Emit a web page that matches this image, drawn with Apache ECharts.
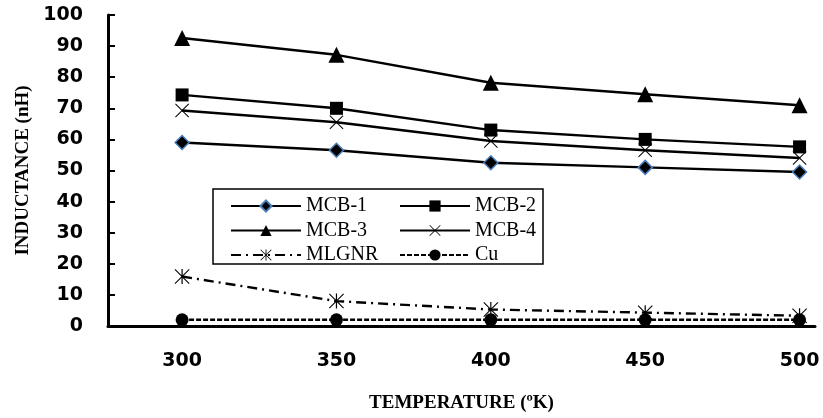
<!DOCTYPE html>
<html><head><meta charset="utf-8">
<script src="https://cdn.jsdelivr.net/npm/echarts@6/dist/echarts.min.js"></script>
<style>html,body{margin:0;padding:0;background:#fff}#c{width:823px;height:418px}</style>
</head><body><div id="c"></div>
<script>
var temps = [300, 350, 400, 450, 500];
var mcb1 = [59, 56.5, 52.5, 51, 49.5];
var mcb2 = [74.3, 70, 63, 60, 57.6];
var mcb3 = [92.6, 87.2, 78.2, 74.5, 71];
var mcb4 = [69.3, 65.5, 59.5, 56.5, 54];
var mlgnr = [15.9, 8, 5.3, 4.3, 3.3];
var cu = [2, 2, 2, 2, 2];
var yTicks = [0,10,20,30,40,50,60,70,80,90,100];

var xPath = 'path://M0,1 L1,0 L10,9 L19,0 L20,1 L11,10 L20,19 L19,20 L10,11 L1,20 L0,19 L9,10 Z';
var starPath = 'path://M0,1 L1,0 L10,9 L19,0 L20,1 L11,10 L20,19 L19,20 L10,11 L1,20 L0,19 L9,10 Z M9.2,0 L10.8,0 L10.8,20 L9.2,20 Z';

function pts(v){ return temps.map(function(t,i){return [t, v[i]];}); }
function mk(name, data, symbol, size, lineType, extra){
  return {
    name: name, type: 'line', data: pts(data), symbol: symbol, symbolSize: size,
    lineStyle: {color:'#000', width: 2.4, type: lineType},
    itemStyle: Object.assign({color:'#000', borderColor:'#000', borderWidth:0}, extra||{}),
    emphasis: {disabled: true}, animation: false, z: 3
  };
}
var chart = echarts.init(document.getElementById('c'));
var legendText = {fontFamily:'Liberation Serif', fontSize:20, color:'#000', lineHeight:20};
var tickFont = {fontFamily:'DejaVu Sans', fontWeight:'bold', fontSize:19, color:'#000'};
chart.setOption({
  backgroundColor:'#fff',
  animation:false,
  grid:{left:108, right:8, top:15, bottom:91, containLabel:false},
  xAxis:{type:'value', min:276, max:505,
    name:'TEMPERATURE (\u00BAK)', nameLocation:'middle', nameGap:68,
    nameTextStyle:{fontFamily:'Liberation Serif', fontWeight:'bold', fontSize:19, color:'#000'},
    axisLine:{show:true, onZero:false, lineStyle:{color:'#000', width:3}},
    axisTick:{show:false},
    splitLine:{show:false},
    axisLabel:Object.assign({customValues:temps, margin:26}, tickFont)
  },
  yAxis:{type:'value', min:0, max:100, interval:10,
    name:'INDUCTANCE (nH)', nameLocation:'middle', nameGap:75,
    nameTextStyle:{fontFamily:'Liberation Serif', fontWeight:'bold', fontSize:19, color:'#000'},
    axisLine:{show:true, lineStyle:{color:'#000', width:3}},
    axisTick:{show:true, inside:true, length:7, lineStyle:{color:'#000', width:2}},
    splitLine:{show:false},
    axisLabel:Object.assign({margin:25}, tickFont)
  },
  legend:[
    {data:['MCB-1','MCB-3','MLGNR'], orient:'vertical', left:225, top:191, itemWidth:70, itemHeight:14, itemGap:4.5, textStyle:legendText},
    {data:['MCB-2','MCB-4','Cu'], orient:'vertical', left:394, top:191, itemWidth:70, itemHeight:14, itemGap:4.5, textStyle:legendText}
  ],
  graphic:[{type:'rect', shape:{x:213, y:189, width:330, height:75}, style:{fill:'none', stroke:'#000', lineWidth:1.5}, z:1}],
  series:[
    mk('MCB-1', mcb1, 'diamond', 14, 'solid', {borderColor:'#4a7ebb', borderWidth:1.5}),
    mk('MCB-2', mcb2, 'rect', 13, 'solid'),
    mk('MCB-3', mcb3, 'triangle', 16, 'solid'),
    mk('MCB-4', mcb4, xPath, 14, 'solid'),
    mk('MLGNR', mlgnr, starPath, 15, [10,5,2,5]),
    mk('Cu', cu, 'circle', 13, [5,2])
  ]
});
</script></body></html>
